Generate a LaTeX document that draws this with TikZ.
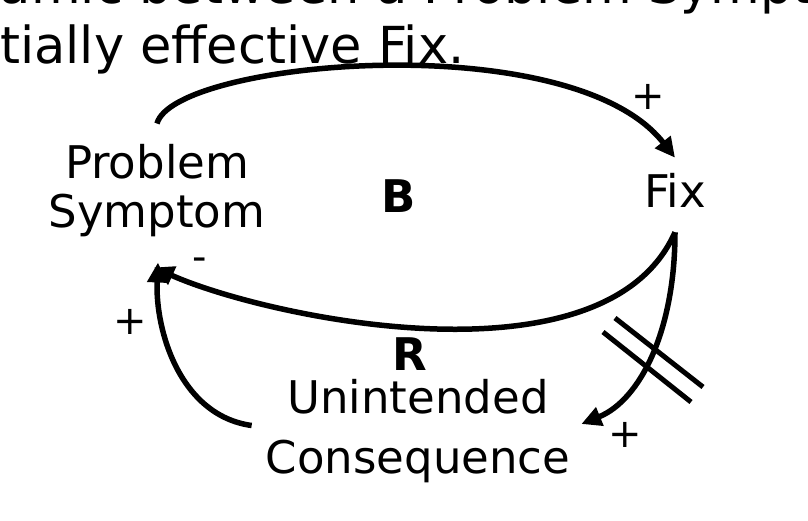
\documentclass[tikz,border=0pt]{standalone}
\usepackage{fontspec}
\setmainfont{DejaVu Sans}
\usetikzlibrary{arrows.meta}
\begin{document}
\begin{tikzpicture}[x=1pt,y=-1pt,
  lbl/.style={inner sep=0pt, align=center, font=\fontsize{45}{49}\selectfont},
  loopmark/.style={inner sep=0pt, font=\bfseries\fontsize{45}{49}\selectfont},
  sign/.style={inner sep=0pt, font=\fontsize{40}{40}\selectfont},
  link/.style={line width=5.5pt, -{Triangle[length=20pt,width=19pt]}},
  delaymark/.style={line width=5pt},
  titletext/.style={inner sep=0pt, anchor=base west, font=\fontsize{51}{56}\selectfont}]
\useasboundingbox (0,0) rectangle (808,520);
\clip (0,0) rectangle (808,520);
% cropped title lines
\node[titletext] (t1) at (648,3) {\llap{dynamic between a Problem }Symptom and a};
\node[titletext] (t2) at (0,63) {\llap{poten}tially effective Fix.};
% variables
\node[lbl] (ps) at (157,191) {Problem\\Symptom};
\node[lbl] (fix) at (675,190) {Fix};
\node[lbl, font=\fontsize{45}{60}\selectfont] (uc) at (418,431.5) {Unintended\\Consequence};
% loop markers
\node[loopmark] (b) at (399,196) {B};
\node[loopmark] (r) at (410,354) {R};
% links
\draw[link] ([yshift=21pt]ps.north) .. controls +(17,-63) and +(-104,-133) .. ([yshift=15pt]fix.north);
\draw[link] ([yshift=-25pt]fix.south) .. controls +(-70,158) and +(112,50) .. ([xshift=-3pt,yshift=-30pt]ps.south);
\draw[link] ([xshift=-14pt,yshift=6pt]uc.west) .. controls +(-72,-10) and +(-3,67) .. ([xshift=1pt,yshift=-25pt]ps.south);
\draw[link] ([yshift=-25pt]fix.south) .. controls +(0,98) and +(59,-24) .. ([xshift=11pt,yshift=7.5pt]uc.east);
% delay mark
\draw[delaymark] (615,318) -- (703,387);
\draw[delaymark] (603,332) -- (691,402);
% polarity signs
\node[sign] (p1) at (648,97) {+};
\node[sign] (m2) at (200,264) {-};
\node[sign] (p3) at (130,322) {+};
\node[sign] (p4) at (625,435) {+};
\end{tikzpicture}
\end{document}
